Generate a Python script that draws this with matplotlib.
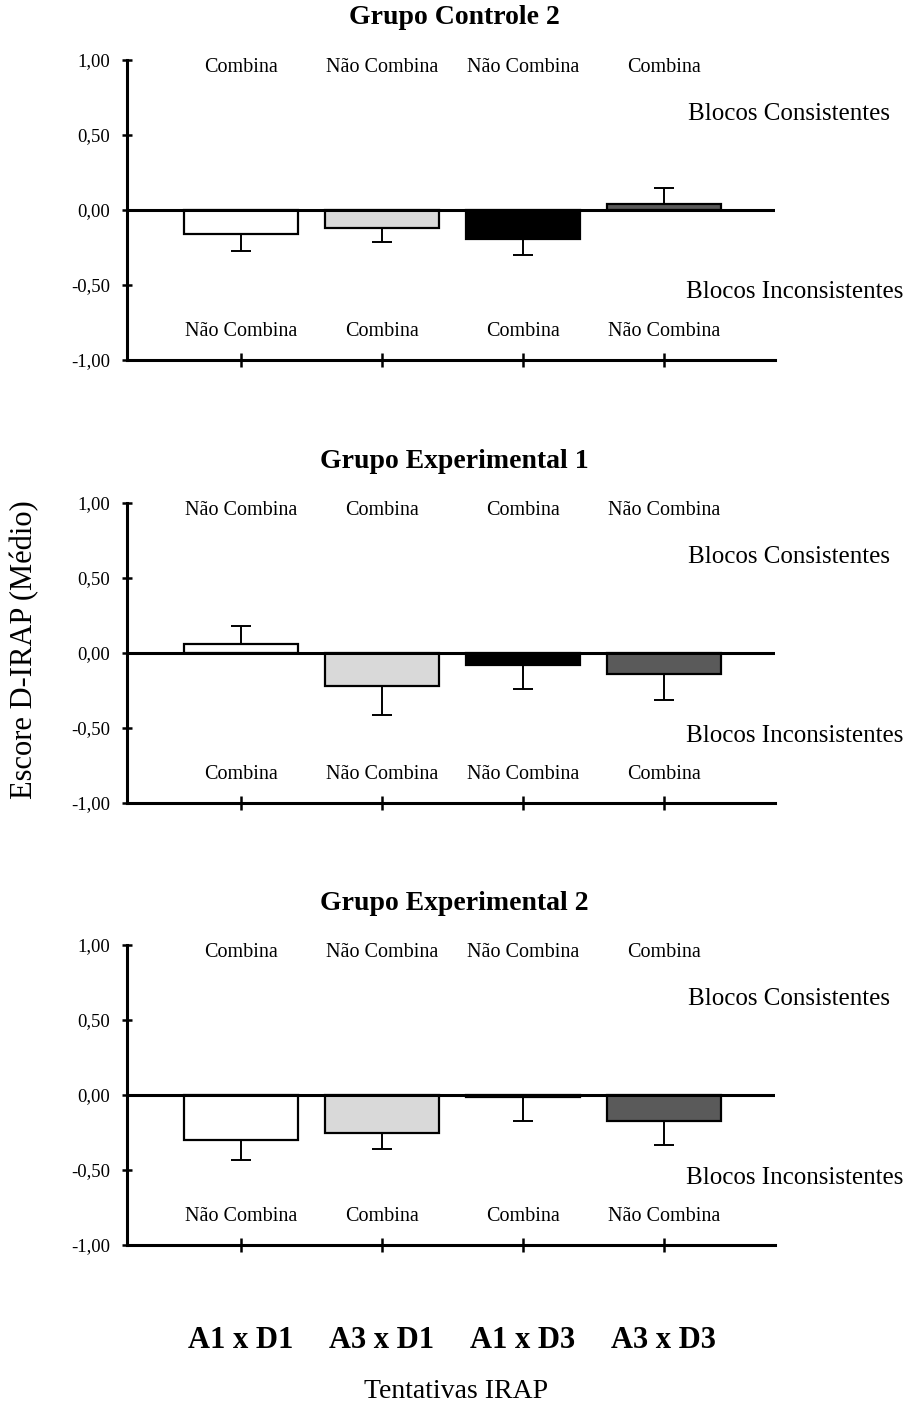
import matplotlib.pyplot as plt
import numpy as np

plt.rcParams['font.family'] = ['Liberation Serif', 'DejaVu Serif']

# data
trials = ["A1 x D1", "A3 x D1", "A1 x D3", "A3 x D3"]
groups = ["Grupo Controle 2", "Grupo Experimental 1", "Grupo Experimental 2"]
means = [
    [-0.16, -0.12, -0.19, 0.04],
    [0.06, -0.22, -0.08, -0.14],
    [-0.30, -0.25, -0.01, -0.17],
]
errs = [
    [0.11, 0.09, 0.11, 0.11],
    [0.12, 0.19, 0.16, 0.17],
    [0.13, 0.11, 0.16, 0.16],
]
top_labels = [
    ["Combina", "Não Combina", "Não Combina", "Combina"],
    ["Não Combina", "Combina", "Combina", "Não Combina"],
    ["Combina", "Não Combina", "Não Combina", "Combina"],
]
bottom_labels = [
    ["Não Combina", "Combina", "Combina", "Não Combina"],
    ["Combina", "Não Combina", "Não Combina", "Combina"],
    ["Não Combina", "Combina", "Combina", "Não Combina"],
]
yticks = [-1.0, -0.5, 0.0, 0.5, 1.0]
ytick_labels = ["-1,00", "-0,50", "0,00", "0,50", "1,00"]
colors = ["white", "#d9d9d9", "black", "#5a5a5a"]

fig = plt.figure(figsize=(9.08, 14.07), dpi=100)
W, H = 908, 1407
tops = [60, 503, 945]   # pixel y of the 1,00 tick
x = np.arange(4)

for i, top in enumerate(tops):
    ax = fig.add_axes([127 / W, 1 - (top + 300) / H, 648 / W, 300 / H])
    ax.set_xlim(-0.81, 3.79)
    ax.set_ylim(-1, 1)
    ax.bar(x, means[i], width=0.81, color=colors, edgecolor="black",
           linewidth=1.6, zorder=2)
    for j in range(4):
        m = means[i][j]
        if m >= 0:
            ye = [[0], [errs[i][j]]]
        else:
            ye = [[errs[i][j]], [0]]
        ax.errorbar(x[j], m, yerr=ye, fmt="none", ecolor="black",
                    elinewidth=1.4, capsize=7, capthick=1.4, zorder=1)
    ax.axhline(0, color="black", linewidth=2.2, zorder=3)

    for s in ["top", "right"]:
        ax.spines[s].set_visible(False)
    for s in ["left", "bottom"]:
        ax.spines[s].set_linewidth(2.2)
    ax.set_yticks(yticks)
    ax.set_yticklabels(ytick_labels, fontsize=13.5)
    ax.set_xticks(x)
    ax.set_xticklabels([])
    ax.tick_params(axis="y", direction="inout", length=6.5, width=1.8, pad=9)
    ax.tick_params(axis="x", direction="inout", length=10, width=1.8)

    for j in range(4):
        ax.text(x[j], 0.95, top_labels[i][j], ha="center", va="center",
                fontsize=14.5)
        ax.text(x[j], -0.81, bottom_labels[i][j], ha="center", va="center",
                fontsize=14.5)
    ax.text(3.17, 0.64, "Blocos Consistentes", ha="left", va="center",
            fontsize=18, clip_on=False)
    ax.text(3.16, -0.55, "Blocos Inconsistentes", ha="left", va="center",
            fontsize=18, clip_on=False)
    fig.text(0.5, 1 - (top - 42) / H, groups[i], ha="center", va="center",
             fontsize=20, fontweight="bold")

    if i == 2:
        for j in range(4):
            ax.text(x[j], -1 - 95 / 150, trials[j], ha="center", va="center",
                    fontsize=22, fontweight="bold")

fig.text(25 / W, 1 - 650 / H, "Escore D-IRAP (Médio)", rotation=90,
         ha="center", va="center", fontsize=22)
fig.text(456 / W, 1 - 1392 / H, "Tentativas IRAP", ha="center", va="center",
         fontsize=20)

fig.savefig("out.png", dpi=100)
